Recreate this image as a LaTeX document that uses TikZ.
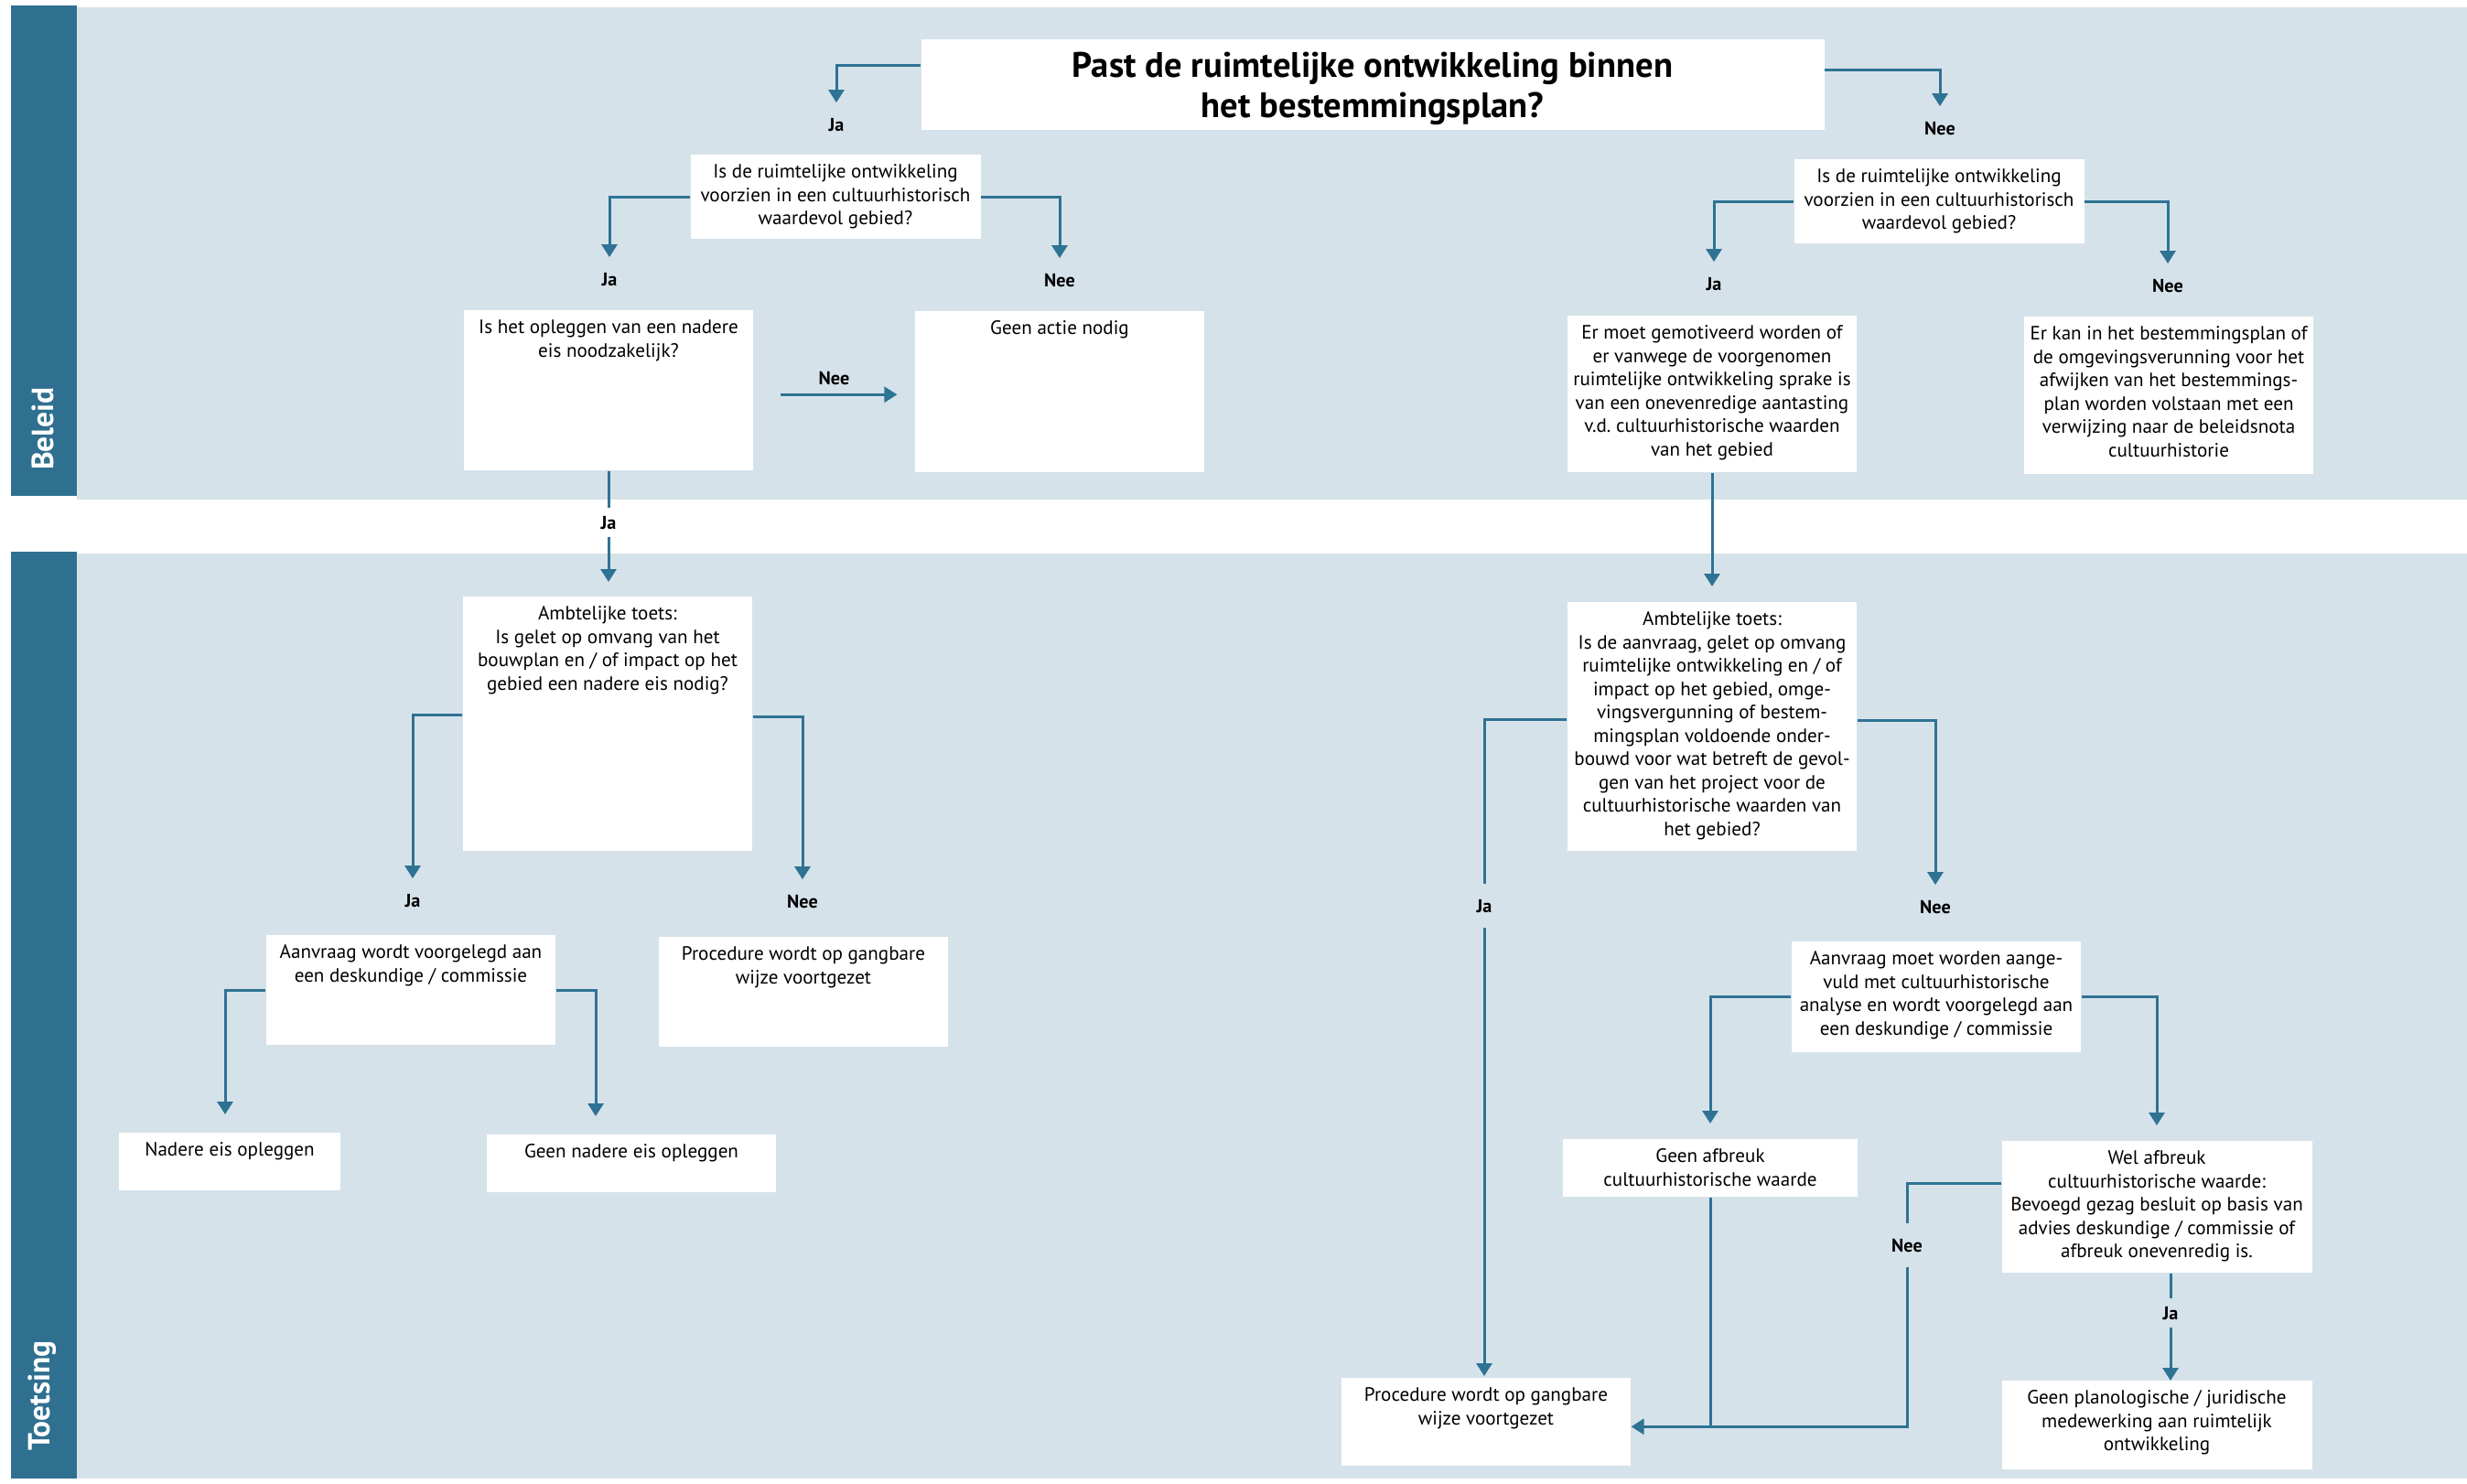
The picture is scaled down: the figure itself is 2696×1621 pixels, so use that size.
\documentclass[tikz,border=0pt]{standalone}
\usepackage{fontspec}
\setmainfont{PT Sans}
\usepackage{tikz}
\usetikzlibrary{arrows.meta, positioning}
\definecolor{laneblue}{HTML}{D6E2EA}
\definecolor{bandblue}{HTML}{2F7090}
\definecolor{lineblue}{HTML}{2E7393}

\begin{document}
\begin{tikzpicture}[->, >={Triangle[length=2.8mm, width=3.4mm]}, x=0.2mm, y=-0.2mm, font=\fontsize{12}{14.5}\selectfont]
    \tikzstyle{box} = [fill=white, align=flush center, anchor=north, text width=62.3mm, inner xsep=0.5mm, inner ysep=1.9mm, text height=9pt]
    \tikzstyle{lbl} = [font=\fontsize{11.5}{13}\selectfont\bfseries, text height=8pt, text depth=0pt, inner xsep=0.5mm, inner ysep=3.3mm]
    \tikzstyle{midlbl} = [lbl, inner ysep=1.8mm]
    \tikzstyle{flow} = [draw=lineblue, line width=0.6mm]
    \tikzstyle{lane} = [fill=laneblue]
    \tikzstyle{band} = [fill=bandblue]
    \tikzstyle{lanetitle} = [rotate=90, anchor=west, text=white, font=\fontsize{19}{22}\selectfont\bfseries]
    \useasboundingbox (0,0) rectangle (2696,1621);
    % swimlanes
    \fill[lane] (84,8) rectangle (2696,546);
    \fill[band] (12,6) rectangle (84,542);
    \fill[lane] (84,605) rectangle (2696,1616);
    \fill[band] (12,603) rectangle (84,1616);
    \node [lanetitle] at (47,520) (beleid) {Beleid};
    \node [lanetitle] at (46,1592) (toetsing) {Toetsing};
    % beleid
    \node [box, text width=196.4mm, inner ysep=2.7mm, text height=15.5pt, text depth=8.9mm, font=\fontsize{22}{25.3}\selectfont\bfseries] at (1500,43) (vraag) {Past de ruimtelijke ontwikkeling binnen\\het bestemmingsplan?};
    \node [lbl] at (914,136) (ja1) {Ja};
    \node [lbl] at (2120,140) (nee1) {Nee};
    \node [box, text width=62.4mm, text depth=11.4mm] at (913,169) (gebied1) {Is de ruimtelijke ontwikkeling\\voorzien in een cultuurhistorisch\\waardevol gebied?};
    \node [box, text width=62.4mm, text depth=11.4mm] at (2119,174) (gebied2) {Is de ruimtelijke ontwikkeling\\voorzien in een cultuurhistorisch\\waardevol gebied?};
    \node [lbl] at (666,305) (ja2) {Ja};
    \node [lbl] at (1158,306) (nee2) {Nee};
    \node [lbl] at (1873,310) (ja3) {Ja};
    \node [lbl] at (2369,312) (nee3) {Nee};
    \node [box, text depth=28mm] at (665,339) (nadereeis) {Is het opleggen van een nadere\\eis noodzakelijk?};
    \node [box, text depth=28.2mm] at (1158,340) (geenactie) {Geen actie nodig};
    \node [box, text depth=27.2mm] at (1871,345) (motiveren) {Er moet gemotiveerd worden of\\er vanwege de voorgenomen\\ruimtelijke ontwikkeling sprake is\\van een onevenredige aantasting\\v.d.\ cultuurhistorische waarden\\van het gebied};
    \node [box, text depth=27.4mm] at (2370,346) (verwijzing) {Er kan in het bestemmingsplan of\\de omgevingsverunning voor het\\afwijken van het bestemmings-\\plan worden volstaan met een\\verwijzing naar de beleidsnota\\cultuurhistorie};
    % toetsing
    \node [midlbl] at (665,571) (ja4) {Ja};
    \node [box, text depth=48.6mm] at (664,652) (toets1) {Ambtelijke toets:\\Is gelet op omvang van het\\bouwplan en / of impact op het\\gebied een nadere eis nodig?};
    \node [box, text depth=47.4mm] at (1871,658) (toets2) {Ambtelijke toets:\\Is de aanvraag, gelet op omvang\\ruimtelijke ontwikkeling en / of\\impact op het gebied, omge-\\vingsvergunning of bestem-\\mingsplan voldoende onder-\\bouwd voor wat betreft de gevol-\\gen van het project voor de\\cultuurhistorische waarden van\\het gebied?};
    \node [lbl] at (451,984) (ja5) {Ja};
    \node [lbl] at (877,985) (nee5) {Nee};
    \node [lbl] at (1622,990) (ja6) {Ja};
    \node [lbl] at (2115,991) (nee6) {Nee};
    \node [box, text depth=17mm] at (449,1022) (deskundige) {Aanvraag wordt voorgelegd aan\\een deskundige / commissie};
    \node [box, text depth=17mm] at (878,1024) (gangbaar1) {Procedure wordt op gangbare\\wijze voortgezet};
    \node [box, text depth=17.2mm] at (2116,1029) (aanvullen) {Aanvraag moet worden aange-\\vuld met cultuurhistorische\\analyse en wordt voorgelegd aan\\een deskundige / commissie};
    \node [box, text width=47.4mm, text depth=5.6mm] at (251,1238) (nadere) {Nadere eis opleggen};
    \node [box, text depth=5.6mm] at (690,1240) (geennadere) {Geen nadere eis opleggen};
    \node [box, text width=63.4mm, text depth=5.6mm] at (1869,1245) (geenafbreuk) {Geen afbreuk\\cultuurhistorische waarde};
    \node [box, text width=66.8mm, text depth=21.8mm] at (2357,1247) (welafbreuk) {Wel afbreuk\\cultuurhistorische waarde:\\Bevoegd gezag besluit op basis van\\advies deskundige / commissie of\\afbreuk onevenredig is.};
    \node [lbl] at (2084,1361) (nee7) {Nee};
    \node [midlbl] at (2372,1435) (ja7) {Ja};
    \node [box, text depth=12.2mm] at (1624,1506) (gangbaar2) {Procedure wordt op gangbare\\wijze voortgezet};
    \node [box, text width=66.8mm, text depth=12.4mm] at (2357,1509) (geenmedewerking) {Geen planologische / juridische\\medewerking aan ruimtelijk\\ontwikkeling};
    \coordinate (samen) at ([yshift=-1mm]gangbaar2.east);
    \coordinate (neepijl) at ([yshift=-0.9mm]nadereeis.east);
    % connectors
    \draw[flow] ([yshift=4.3mm]vraag.west) -| (ja1);
    \draw[flow] ([yshift=3.3mm]vraag.east) -| (nee1);
    \draw[flow] (gebied1.west) -| (ja2);
    \draw[flow] (gebied1.east) -| (nee2);
    \draw[flow] (gebied2.west) -| (ja3);
    \draw[flow] (gebied2.east) -| (nee3);
    \draw[flow, shorten <=5.8mm, shorten >=3.8mm] (neepijl) -- (neepijl -| geenactie.west) node [midlbl, midway, above] (nee4) {Nee};
    \draw[flow, -] (nadereeis) -- (ja4);
    \draw[flow, shorten >=3.2mm] (ja4) -- (ja4 |- toets1.north);
    \draw[flow] ([yshift=2mm]toets1.west) -| (ja5);
    \draw[flow] ([yshift=1.6mm]toets1.east) -| (nee5);
    \draw[flow, shorten >=4mm] (deskundige.west) -| ([xshift=-1mm]nadere.north);
    \draw[flow, shorten >=4mm] (deskundige.east) -| ([xshift=-7.8mm]geennadere.north);
    \draw[flow, shorten >=3.4mm] (motiveren) -- (toets2);
    \draw[flow, -] ([yshift=1.6mm]toets2.west) -| (ja6);
    \draw[flow, shorten >=0.4mm] (ja6) -- (ja6 |- gangbaar2.north);
    \draw[flow] ([yshift=1.4mm]toets2.east) -| (nee6);
    \draw[flow, shorten >=3.4mm] (aanvullen.west) -| (geenafbreuk.north);
    \draw[flow, shorten >=3.4mm] (aanvullen.east) -| (welafbreuk.north);
    \draw[flow, -] ([yshift=5.2mm]welafbreuk.west) -| (nee7);
    \draw[flow] (nee7) |- (samen);
    \draw[flow, -] (geenafbreuk) -- (geenafbreuk |- samen);
    \draw[flow, -] (ja7 |- welafbreuk.south) -- (ja7);
    \draw[flow] (ja7) -- (ja7 |- geenmedewerking.north);
\end{tikzpicture}
\end{document}
